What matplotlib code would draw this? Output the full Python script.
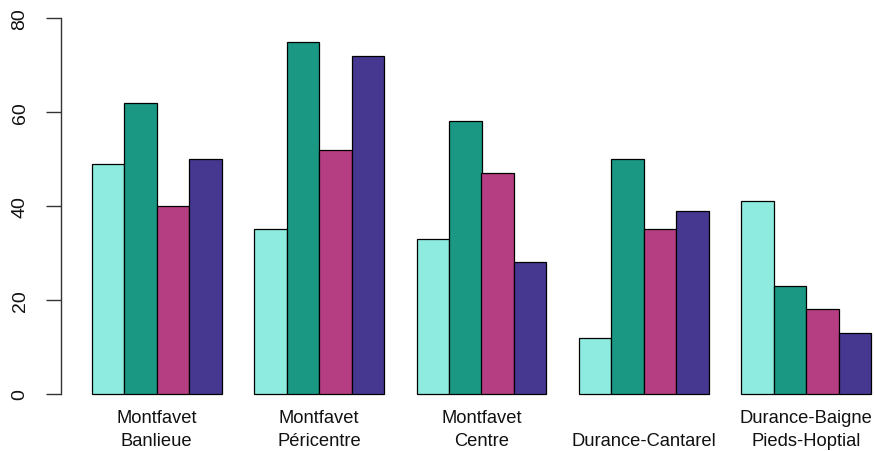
import matplotlib
matplotlib.use("Agg")
import matplotlib.pyplot as plt
import matplotlib.transforms as mtrans

groups = ["Montfavet\nBanlieue", "Montfavet\nPéricentre", "Montfavet\nCentre",
          "Durance-Cantarel", "Durance-Baigne\nPieds-Hoptial"]
series1 = [49, 35, 33, 12, 41]
series2 = [62, 75, 58, 50, 23]
series3 = [40, 52, 47, 35, 18]
series4 = [50, 72, 28, 39, 13]
colors = ["#8EEBDF", "#1A9884", "#B53D82", "#463891"]
yticks = [0, 20, 40, 60, 80]

plt.rcParams['font.family'] = ['Liberation Sans', 'DejaVu Sans']

fig = plt.figure(figsize=(8.74, 4.52), dpi=100)
ax = fig.add_axes([60.5/874, 42/452, 842/874, 406/452])

series = [series1, series2, series3, series4]
n = len(groups)
for gi in range(n):
    start = 1 + gi * 5
    for si, s in enumerate(series):
        ax.bar(start + si, s[gi], width=1, align='edge', color=colors[si],
               edgecolor='black', linewidth=0.9)

ax.set_xlim(0.04, 25.96)
ax.set_ylim(-3.2, 83.2)
for sp in ['top', 'right', 'bottom']:
    ax.spines[sp].set_visible(False)
ax.spines['left'].set_bounds(0, 80)
ax.spines['left'].set_linewidth(1.0)
ax.spines['left'].set_color('#333333')
ax.set_xticks([])
ax.set_yticks(yticks)
ax.set_yticklabels([str(v) for v in yticks], rotation=90, va='center', fontsize=14,
                   color='#111111')
ax.tick_params(axis='y', length=10.5, width=1.0, color='#333333', pad=12.5)

trans = mtrans.blended_transform_factory(ax.transData, fig.transFigure)
for gi, lab in enumerate(groups):
    cx = 1 + gi * 5 + 2
    ax.text(cx, (452 - 450) / 452, lab, transform=trans, ha='center', va='bottom',
            fontsize=13.2, linespacing=1.45, multialignment='center', color='#111111')

fig.savefig("out.png", dpi=100)
